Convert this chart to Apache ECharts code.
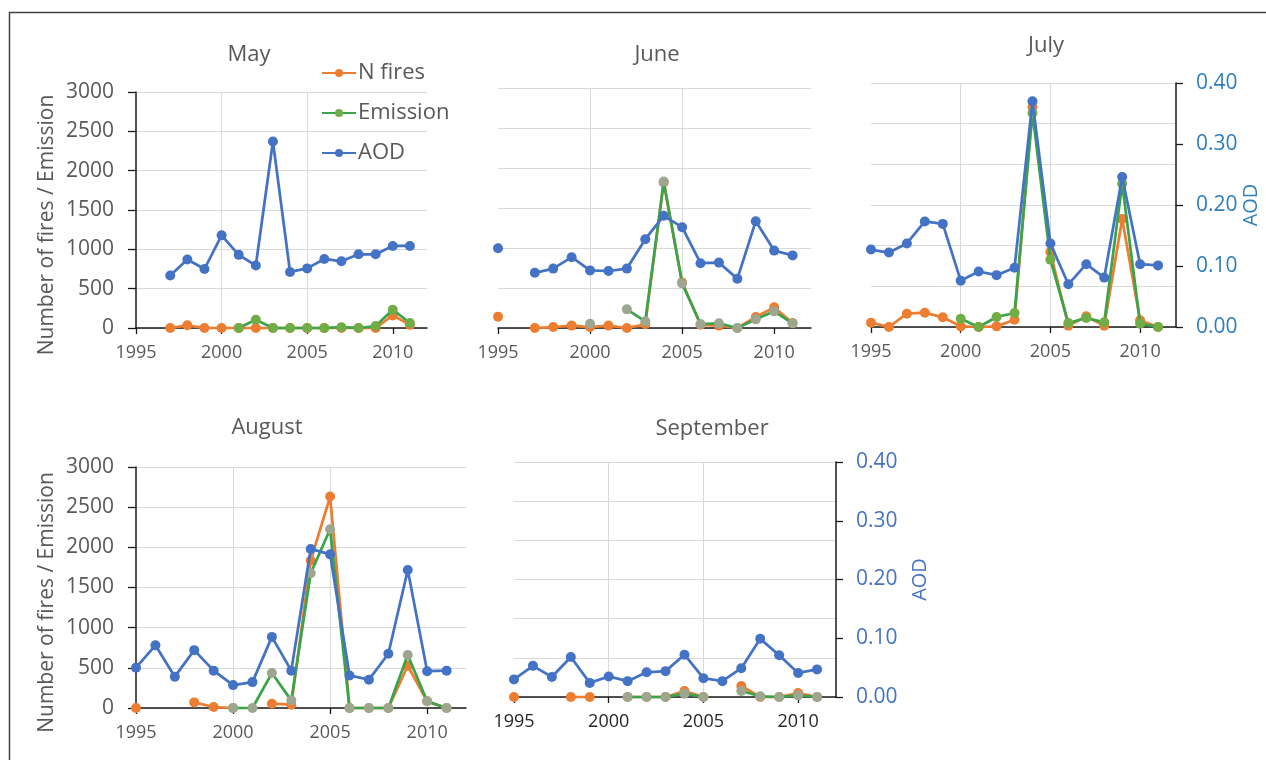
<!DOCTYPE html>
<html>
<head>
<meta charset="utf-8">
<script src="https://cdn.jsdelivr.net/npm/echarts@6/dist/echarts.min.js"></script>
<style>
html,body{margin:0;padding:0;background:#fff;}
#chart{width:1266px;height:760px;}
</style>
</head>
<body>
<div id="chart"></div>
<script>
// ---------- DATA ----------
const years = [1995,1996,1997,1998,1999,2000,2001,2002,2003,2004,2005,2006,2007,2008,2009,2010,2011];
const xTickLabels = [1995,2000,2005,2010];
const leftTicks = [0,500,1000,1500,2000,2500,3000];
const aodTicks = [0,0.1,0.2,0.3,0.4];
const panelTitles = ['May','June','July','August','September'];
const seriesNames = ['N fires','Emission','AOD'];

const mayFires = [null,null,0,34,0,0,0,0,0,0,0,0,0,0,0,160,40];
const mayEmission = [null,null,null,null,null,null,0,106,0,0,0,0,10,0,25,233,64];
const mayAOD = [null,null,0.089,0.116,0.100,0.157,0.124,0.106,0.316,0.095,0.101,0.117,0.113,0.125,0.125,0.139,0.139];

const junFires = [142,null,0,12,30,12,30,0,46,1820,570,40,30,0,137,258,62];
const junEmission = [null,null,null,null,null,54,null,233,83,1830,558,50,58,0,108,208,58];
const junAOD = [0.133,null,0.092,0.099,0.118,0.096,0.095,0.099,0.148,0.187,0.168,0.108,0.109,0.082,0.178,0.129,0.121];

const julFires = [53,0,164,176,119,8,0,8,90,2705,922,16,131,16,1328,82,0];
const julEmission = [null,null,null,null,null,102,0,123,172,2631,828,49,111,57,1762,41,0];
const julAOD = [0.127,0.122,0.137,0.173,0.169,0.076,0.091,0.085,0.097,0.370,0.137,0.070,0.103,0.081,0.246,0.103,0.101];

const augFires = [0,null,null,70,12,0,null,54,41,1836,2632,0,0,0,526,83,0];
const augEmission = [null,null,null,null,null,0,0,435,95,1678,2225,0,0,0,659,83,0];
const augAOD = [0.067,0.104,0.052,0.096,0.062,0.038,0.043,0.118,0.062,0.264,0.255,0.054,0.047,0.090,0.229,0.061,0.062];

const sepFires = [0,null,null,0,0,null,0,0,0,77,0,null,141,0,0,51,0];
const sepEmission = [null,null,null,null,null,null,0,0,0,43,0,null,77,9,0,21,0];
const sepAOD = [0.030,0.053,0.034,0.068,0.024,0.035,0.027,0.042,0.044,0.072,0.032,0.027,0.049,0.099,0.071,0.041,0.047];

const panelData = [
  [mayFires, mayEmission, mayAOD],
  [junFires, junEmission, junAOD],
  [julFires, julEmission, julAOD],
  [augFires, augEmission, augAOD],
  [sepFires, sepEmission, sepAOD]
];

// ---------- LAYOUT / STYLE ----------
const FONT = '"Open Sans", "Liberation Sans", sans-serif';
const GRAY = '#595959';
const grids = [
  {left:136, top:92, width:291, height:236},
  {left:498, top:88, width:313, height:240},
  {left:871, top:83, width:305, height:244},
  {left:136, top:467, width:330, height:241},
  {left:514, top:462, width:322, height:235}
];
const titlePos = [[244,39],[652,39],[1041,30],[262,412],[707,413]];
const showLeft = [true,false,false,true,false];
const showRight = [false,false,true,false,true];
const xLabelColor = [GRAY,GRAY,GRAY,GRAY,'#262626'];
const aodLabelColor = ['#2E7EC0','#2E7EC0','#2E7EC0','#4472C4','#4472C4'];
const aodNameGap = [65,65,65,74,74];
const xLabelMargin = [16,16,16,16,16];
const emisMarker = ['#70AD47','#9DA78F','#70AD47','#9DA78F','#9DA78F'];

const COLORS = {fires:'#ED7D31', emisLine:'#3BA34A', aod:'#4472C4'};

function pairs(arr){ return years.map((y,i)=>[y, arr[i]]); }

const option = {
  animation:false,
  backgroundColor:'#fff',
  textStyle:{fontFamily:FONT},
  title: panelTitles.map((t,i)=>({
    text:t, left:titlePos[i][0], top:titlePos[i][1], textAlign:'center',
    textStyle:{fontFamily:FONT, fontSize:22, fontWeight:'normal', color:GRAY}
  })),
  legend:{
    data:seriesNames, orient:'vertical', left:316, top:57,
    itemWidth:34, itemHeight:10, itemGap:18,
    textStyle:{fontFamily:FONT, fontSize:22, color:GRAY, padding:[0,0,0,-3]}
  },
  graphic:[{
    type:'polyline', silent:true,
    shape:{points:[[9.5,760],[9.5,12.5],[1266,12.5]]},
    style:{stroke:'#404040', lineWidth:1.5, fill:null}
  }],
  grid: grids.map(g=>Object.assign({containLabel:false}, g)),
  xAxis: grids.map((g,i)=>({
    type:'value', gridIndex:i, min:1995, max:2012, interval:5,
    axisLine:{show:true, onZero:false, lineStyle:{color:'#1a1a1a', width:1.5}},
    axisTick:{show:true, length:6, customValues:xTickLabels, lineStyle:{color:'#1a1a1a', width:1.3}},
    axisLabel:{show:true, customValues:xTickLabels, color:xLabelColor[i], fontSize:18, fontFamily:FONT, margin:xLabelMargin[i],
      formatter:(v)=>String(v)},
    splitLine:{show:true, showMinLine:false, showMaxLine:false, lineStyle:{color:'#D9D9D9', width:1}}
  })),
  yAxis: [].concat(...grids.map((g,i)=>[
    {
      type:'value', gridIndex:i, position:'left', min:0, max:3000, interval:500,
      name: showLeft[i] ? 'Number of fires / Emission' : '',
      nameLocation:'middle', nameGap:78, nameRotate:90,
      nameTextStyle:{fontFamily:FONT, fontSize:21, color:GRAY, padding:[0,30,0,0]},
      axisLine:{show:showLeft[i], lineStyle:{color:'#1a1a1a', width:1.5}},
      axisTick:{show:showLeft[i], length:8, lineStyle:{color:'#1a1a1a', width:1.3}},
      axisLabel:{show:showLeft[i], color:GRAY, fontSize:21, fontFamily:FONT, margin:22,
        formatter:(v)=>String(v)},
      splitLine:{show:true, lineStyle:{color:'#D9D9D9', width:1}}
    },
    {
      type:'value', gridIndex:i, position:'right', min:0, max:0.4, interval:0.1,
      name: showRight[i] ? 'AOD' : '',
      nameLocation:'middle', nameGap:aodNameGap[i], nameRotate:90,
      nameTextStyle:{fontFamily:FONT, fontSize:20, color:aodLabelColor[i]},
      axisLine:{show:showRight[i], lineStyle:{color:'#1a1a1a', width:1.5}},
      axisTick:{show:showRight[i], length:7, lineStyle:{color:'#1a1a1a', width:1.3}},
      axisLabel:{show:showRight[i], color:aodLabelColor[i], fontSize:21, fontFamily:FONT, margin:20,
        formatter:(v)=>v.toFixed(2)},
      splitLine:{show:false}
    }
  ])),
  series: [].concat(...panelData.map((d,i)=>[
    {
      name:'N fires', type:'line', xAxisIndex:i, yAxisIndex:2*i, data:pairs(d[0]),
      symbol:'circle', symbolSize:10, showSymbol:true, showAllSymbol:true, connectNulls:false,
      lineStyle:{color:COLORS.fires, width:2.75}, itemStyle:{color:COLORS.fires},
      z:2
    },
    {
      name:'Emission', type:'line', xAxisIndex:i, yAxisIndex:2*i, data:pairs(d[1]),
      symbol:'circle', symbolSize:10, showSymbol:true, showAllSymbol:true, connectNulls:false,
      lineStyle:{color:COLORS.emisLine, width:2.75}, itemStyle:{color:emisMarker[i]},
      z:3
    },
    {
      name:'AOD', type:'line', xAxisIndex:i, yAxisIndex:2*i+1, data:pairs(d[2]),
      symbol:'circle', symbolSize:10, showSymbol:true, showAllSymbol:true, connectNulls:false,
      lineStyle:{color:COLORS.aod, width:2.75}, itemStyle:{color:COLORS.aod},
      z:4
    }
  ]))
};

const chart = echarts.init(document.getElementById('chart'), null, {renderer:'canvas'});
chart.setOption(option);
</script>
</body>
</html>
